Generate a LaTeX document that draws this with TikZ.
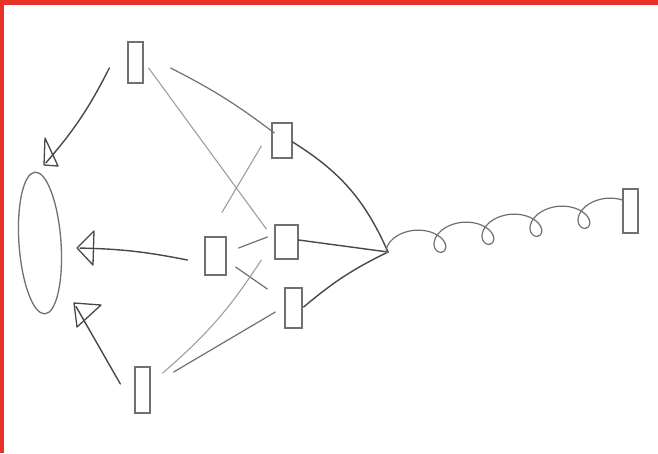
\documentclass[tikz,border=0pt]{standalone}
\usetikzlibrary{shapes.geometric}
\definecolor{frame}{RGB}{232,50,40}
\definecolor{pencildark}{RGB}{72,72,72}
\definecolor{pencilmid}{RGB}{112,112,112}
\definecolor{pencillight}{RGB}{158,158,158}

\begin{document}
\begin{tikzpicture}[x=1pt,y=-1pt,
  cell/.style={draw=pencilmid, line width=1.3pt, inner sep=0pt},
  strong/.style={draw=pencildark, line width=1.4pt, line cap=round},
  medium/.style={draw=pencilmid, line width=1.2pt, line cap=round},
  faint/.style={draw=pencillight, line width=1.1pt, line cap=round},
  arrowhead/.style={draw=pencildark, line width=1.3pt, line join=round}]

% page and frame
\useasboundingbox (0,0) rectangle (658,453);
\fill[white] (0,0) rectangle (658,453);
\fill[frame] (0,0) rectangle (658,5);
\fill[frame] (0,0) rectangle (3.5,453);

% target loop
\node[cell, ellipse, minimum width=42pt, minimum height=142pt, rotate=4] (ell) at (40,243) {};

% small boxes
\node[cell, minimum width=15pt, minimum height=41pt] (A) at (135.5,62.5) {};
\node[cell, minimum width=20pt, minimum height=35pt] (B) at (282,140.5) {};
\node[cell, minimum width=21pt, minimum height=38pt] (C) at (215.5,256) {};
\node[cell, minimum width=23pt, minimum height=34pt] (D) at (286.5,242) {};
\node[cell, minimum width=17pt, minimum height=40pt] (E) at (293.5,308) {};
\node[cell, minimum width=15pt, minimum height=46pt] (F) at (142.5,390) {};
\node[cell, minimum width=15pt, minimum height=44pt] (G) at (630.5,211) {};

% convergence point and arrow tips
\coordinate (hub) at (388,252);
\coordinate (tipA) at (44,165);
\coordinate (tipC) at (77,248);
\coordinate (tipF) at (74,303);

% arrows towards the loop, each with a hand-drawn open head
\draw[strong, shorten >=3pt] ([shift={(-18,5.5)}]A.west) to[bend left=7] (tipA);
\draw[arrowhead] (tipA) -- ([shift={(1,-27)}]tipA) -- ([shift={(14,1)}]tipA) -- cycle;
\draw[strong, shorten >=3pt] ([shift={(-17,4)}]C.west) to[bend right=5] (tipC);
\draw[arrowhead] (tipC) -- ([shift={(17,-17)}]tipC) -- ([shift={(16,17)}]tipC) -- cycle;
\draw[strong, shorten >=4pt] ([shift={(-14,-6)}]F.west) -- (tipF);
\draw[arrowhead] (tipF) -- ([shift={(27,2)}]tipF) -- ([shift={(3,24)}]tipF) -- cycle;

% links between the boxes
\draw[medium] ([shift={(27,5.5)}]A.east) to[bend left=5] ([shift={(3,-7.5)}]B.west);
\draw[faint] ([shift={(5,5.5)}]A.east) -- ([shift={(-8,-13)}]D.west);
\draw[faint] ([shift={(6.5,-24)}]C.north) -- ([shift={(-10,5.5)}]B.west);
\draw[medium] ([shift={(12,-8)}]C.east) -- ([shift={(-7,-5)}]D.west);
\draw[medium] ([shift={(9,11)}]C.east) -- ([shift={(-17,-19)}]E.west);
\draw[faint] ([shift={(12,-17)}]F.east) to[bend right=8] ([shift={(-13,18)}]D.west);
\draw[medium] ([shift={(23,-18)}]F.east) -- ([shift={(-9,4)}]E.west);

% links into the convergence point
\draw[strong] ([shift={(0,1.5)}]B.east) to[bend left=17] (hub);
\draw[strong] ([shift={(0,-2)}]D.east) -- (hub);
\draw[strong] ([shift={(1,-1)}]E.east) to[bend left=7] (hub);

% coiled spring to the far box (projected helix on a rising axis)
\draw[medium] (hub) -- plot[domain=61.5:1659, samples=500, variable=\u]
  ({391.9+0.13334*\u-16*sin(\u)}, {247.2-0.0222*\u+13*cos(\u)}) -- ([yshift=4pt]G.west);
\end{tikzpicture}
\end{document}
